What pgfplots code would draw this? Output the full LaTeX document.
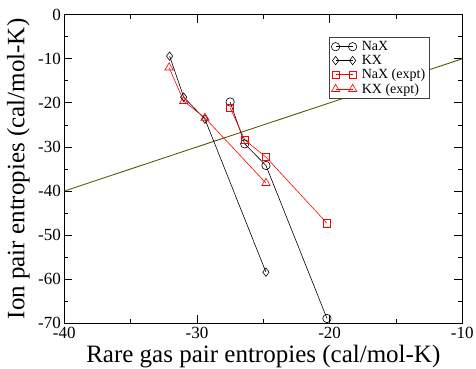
\documentclass[border=0pt]{standalone}
\usepackage{fontspec}
\setmainfont{Liberation Serif}
\usepackage{pgfplots}
\pgfplotsset{compat=1.18}
\definecolor{olivel}{RGB}{90,90,0}
\begin{document}
\begin{tikzpicture}
\begin{axis}[
 scale only axis, width=398pt, height=308.6pt,
 xmin=-40, xmax=-10, ymin=-70, ymax=0,
 xtick={-40,-30,-20,-10}, xticklabels={-40,-30,-20,-10},
 ytick={-70,-60,-50,-40,-30,-20,-10,0}, yticklabels={-70,-60,-50,-40,-30,-20,-10,0},
 minor x tick num=1, minor y tick num=1,
 major tick length=8pt, minor tick length=4pt,
 tick style={black, line width=0.8pt},
 axis line style={line width=1.2pt},
 ticklabel style={font=\fontsize{17}{17}\selectfont},
 xlabel={Rare gas pair entropies (cal/mol-K)},
 ylabel={Ion pair entropies (cal/mol-K)},
 label style={font=\fontsize{25}{25}\selectfont},
 xlabel style={at={(axis description cs:0.5,-0.1277)}, anchor=base},
 ylabel style={at={(axis description cs:-0.1,0.5)}, anchor=base},
 legend style={at={(0.665,0.928)}, anchor=north west, font=\fontsize{14}{14}\selectfont, draw=black!75, line width=0.9pt, inner sep=2pt, row sep=-0.8pt,
   /tikz/every odd column/.append style={column sep=3pt}},
 legend cell align=left,
 legend image code/.code={\draw plot coordinates {(0pt,0pt) (17pt,0pt)};},
]
\addplot[olivel, line width=0.9pt, forget plot] coordinates {(-40,-40) (-10,-10)};
\addplot[black, line width=0.6pt, mark=o, mark size=4.2pt, mark options={line width=0.6pt, fill=none}] coordinates {
 (-27.5,-19.8) (-26.4,-29.3) (-24.8,-34.2) (-20.2,-68.9)};
\addlegendentry{NaX}
\addplot[black, line width=0.6pt, mark=diamond, mark size=4.2pt, mark options={line width=0.6pt, fill=none}] coordinates {
 (-32.06,-9.4) (-31.0,-18.7) (-29.4,-23.7) (-24.8,-58.4)};
\addlegendentry{KX}
\addplot[red, line width=0.6pt, mark=square, mark size=3.6pt, mark options={line width=0.6pt, fill=none}] coordinates {
 (-27.5,-21.1) (-26.4,-28.4) (-24.8,-32.3) (-20.2,-47.3)};
\addlegendentry{NaX (expt)}
\addplot[red, line width=0.6pt, mark=triangle, mark size=4.8pt, mark options={line width=0.6pt, fill=none}] coordinates {
 (-32.1,-12.0) (-31.0,-19.6) (-29.4,-23.4) (-24.8,-38.2)};
\addlegendentry{KX (expt)}
\end{axis}
\pgfresetboundingbox
\path[use as bounding box] (current axis.south west) ++(-64.3pt,-45.7pt) rectangle ++(476pt,369pt);
\end{tikzpicture}
\end{document}
